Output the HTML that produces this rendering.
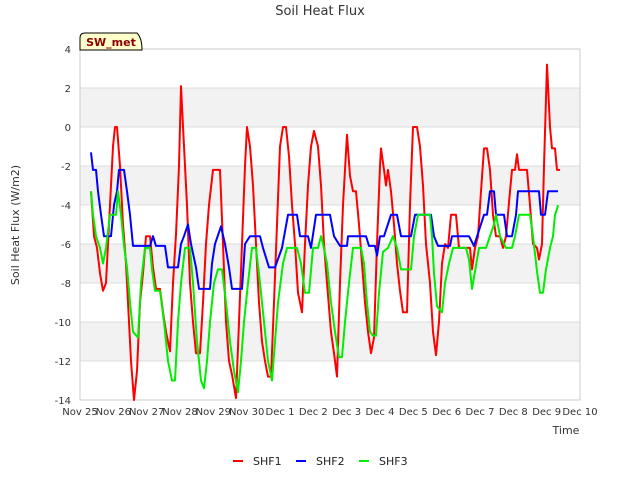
<!DOCTYPE html>
<html><head><meta charset="utf-8"><style>
body{margin:0;background:#fff;font-family:"Liberation Sans","DejaVu Sans",sans-serif;}
svg text{font-family:"DejaVu Sans","Liberation Sans",sans-serif;}
</style></head><body>
<svg id="chart" width="640" height="480" viewBox="0 0 640 480" xmlns="http://www.w3.org/2000/svg">
<rect width="640" height="480" fill="#fff"/>
<text x="320" y="15" text-anchor="middle" font-size="13" fill="#333">Soil Heat Flux</text>
<g id="bands"></g>
<g id="grid"></g>
<rect x="80" y="49" width="500" height="351" fill="none" stroke="#ccc"/>
<g id="yticks"></g>
<g id="xticks"></g>
<g id="series"></g>
<text transform="translate(19,225) rotate(-90)" text-anchor="middle" font-size="11" fill="#333">Soil Heat Flux (W/m2)</text>
<text x="566" y="434" text-anchor="middle" font-size="11" fill="#333">Time</text>
<g>
<path d="M80,50 L80,38 Q80,33 85,33 L137,33 Q142,38 142,50 Z" fill="#ffffcc" stroke="#000"/>
<text x="111" y="46" text-anchor="middle" font-size="11" font-weight="bold" fill="#8b0000">SW_met</text>
</g>
<g id="legend"></g>
</svg>
<script>
const yTicks=[4,2,0,-2,-4,-6,-8,-10,-12,-14];
const xTickLabels=["Nov 25","Nov 26","Nov 27","Nov 28","Nov 29","Nov 30","Dec 1","Dec 2","Dec 3","Dec 4","Dec 5","Dec 6","Dec 7","Dec 8","Dec 9","Dec 10"];
const seriesNames=["SHF1","SHF2","SHF3"];
const shf1T=[.33,.42,.51,.6,.69,.78,.9,.99,1.05,1.11,1.2,1.29,1.38,1.44,1.53,1.62,1.71,1.8,1.89,1.98,2.1,2.19,2.28,2.4,2.49,2.58,2.7,2.79,2.88,2.97,3.03,3.12,3.21,3.3,3.39,3.48,3.6,3.69,3.78,3.87,3.99,4.2,4.29,4.38,4.47,4.56,4.68,4.77,4.86,4.95,5.01,5.1,5.19,5.28,5.37,5.46,5.55,5.64,5.73,5.82,5.91,6.0,6.09,6.18,6.27,6.36,6.45,6.54,6.66,6.75,6.84,6.93,7.02,7.14,7.23,7.32,7.41,7.53,7.62,7.71,7.8,7.89,8.01,8.1,8.19,8.28,8.37,8.46,8.55,8.64,8.73,8.82,8.91,9.0,9.03,9.12,9.18,9.24,9.33,9.42,9.51,9.6,9.69,9.81,9.9,9.99,10.11,10.2,10.29,10.38,10.5,10.59,10.68,10.77,10.86,10.95,11.04,11.13,11.28,11.37,11.58,11.7,11.76,11.85,11.94,12.03,12.12,12.21,12.3,12.39,12.48,12.6,12.69,12.78,12.9,12.96,13.05,13.11,13.17,13.41,13.5,13.59,13.71,13.77,13.86,13.92,14.01,14.1,14.16,14.25,14.31,14.4];
const shf1V=[-3.3,-5.6,-6.2,-7.5,-8.4,-8.0,-4,-1,0,0,-2,-5,-7,-9,-12,-14,-12.5,-9,-7.5,-5.6,-5.6,-7.2,-8.3,-8.3,-9.5,-10.5,-11.5,-8,-5.5,-2,2.1,-1,-4,-8,-10,-11.6,-11.6,-9,-6,-4,-2.2,-2.2,-6,-10,-12,-12.7,-13.9,-10,-6,-2,0,-1,-3,-6,-9,-11,-12,-12.8,-12.8,-9,-5,-1,0,0,-1.5,-4,-6,-8.5,-9.5,-6,-3,-1,-0.2,-1,-3,-6,-8,-10.5,-11.6,-12.8,-8,-4,-0.4,-2.5,-3.3,-3.3,-5,-7,-9,-10.5,-11.6,-10.8,-6,-2,-1.1,-2.2,-3,-2.2,-3.3,-5,-7,-8.4,-9.5,-9.5,-4,0,0,-1,-3,-6,-8,-10.5,-11.7,-10,-7,-6,-6.2,-4.5,-4.5,-6.2,-6.2,-6.2,-7.3,-6.2,-5.6,-3.3,-1.1,-1.1,-2.2,-4.5,-5.6,-5.6,-6.2,-5.6,-3.3,-2.2,-2.2,-1.4,-2.2,-2.2,-4,-6,-6.2,-6.8,-6,-2,3.2,0,-1.1,-1.1,-2.2,-2.2];
const shf2T=[.33,.39,.48,.54,.63,.72,.93,1.02,1.11,1.17,1.32,1.41,1.5,1.59,2.1,2.19,2.28,2.55,2.64,2.94,3.03,3.12,3.24,3.33,3.48,3.57,3.9,3.96,4.05,4.23,4.35,4.47,4.56,4.86,4.95,5.1,5.4,5.49,5.67,5.85,6.06,6.24,6.51,6.6,6.84,6.93,7.08,7.5,7.62,7.8,8.01,8.04,8.58,8.67,8.85,8.91,9.0,9.12,9.33,9.51,9.63,9.93,10.05,10.53,10.62,10.74,11.1,11.16,11.67,11.82,12.12,12.21,12.3,12.42,12.48,12.72,12.81,12.96,13.08,13.14,13.77,13.83,13.95,14.04,14.34];
const shf2V=[-1.3,-2.2,-2.2,-3.3,-4.5,-5.6,-5.6,-4,-3.3,-2.2,-2.2,-3.3,-4.5,-6.1,-6.1,-5.6,-6.1,-6.1,-7.2,-7.2,-6,-5.6,-5,-6,-7.2,-8.3,-8.3,-7,-6,-5.1,-6,-7.2,-8.3,-8.3,-6,-5.6,-5.6,-6.2,-7.2,-7.2,-6.2,-4.5,-4.5,-5.6,-5.6,-6.2,-4.5,-4.5,-5.6,-6.1,-6.1,-5.6,-5.6,-6.1,-6.1,-6.6,-5.6,-5.6,-4.5,-4.5,-5.6,-5.6,-4.5,-4.5,-5.6,-6.1,-6.1,-5.6,-5.6,-6.1,-4.5,-4.5,-3.3,-3.3,-4.5,-4.5,-5.6,-5.6,-4.5,-3.3,-3.3,-4.5,-4.5,-3.3,-3.3];
const shf3T=[.33,.39,.48,.6,.69,.78,.9,1.08,1.14,1.23,1.32,1.41,1.5,1.59,1.74,1.83,1.95,2.1,2.16,2.25,2.4,2.52,2.64,2.76,2.85,2.94,3.03,3.15,3.3,3.39,3.51,3.63,3.72,3.81,3.9,4.02,4.14,4.26,4.38,4.5,4.62,4.74,4.83,4.92,5.04,5.16,5.28,5.4,5.52,5.64,5.76,5.85,5.94,6.09,6.21,6.51,6.63,6.75,6.87,6.99,7.14,7.23,7.29,7.41,7.53,7.65,7.77,7.86,7.95,8.07,8.19,8.43,8.52,8.61,8.7,8.79,8.88,8.97,9.09,9.24,9.39,9.51,9.63,9.93,10.02,10.14,10.5,10.56,10.62,10.71,10.86,10.95,11.07,11.19,11.58,11.67,11.76,11.85,11.97,12.18,12.3,12.42,12.48,12.6,12.78,12.96,13.05,13.17,13.5,13.59,13.71,13.8,13.89,13.98,14.1,14.19,14.25,14.31,14.34];
const shf3V=[-3.3,-4.5,-5.6,-6.2,-7,-6.2,-4.5,-4.5,-3.3,-4.5,-6.1,-7.2,-9,-10.5,-10.8,-8,-6.2,-6.2,-7.3,-8.4,-8.4,-10,-12,-13,-13,-10,-8,-6.2,-6.2,-8,-11,-13,-13.4,-12,-10,-8,-7.3,-7.3,-9,-11,-12.5,-13.6,-12,-10,-8,-6.2,-6.2,-8,-10,-12,-13,-11,-9,-7,-6.2,-6.2,-7,-8.5,-8.5,-6.2,-6.2,-5.6,-6,-7,-9,-10.5,-11.8,-11.8,-10,-8,-6.2,-6.2,-7,-9,-10.5,-10.7,-10.7,-8.5,-6.4,-6.2,-5.6,-6.2,-7.3,-7.3,-5.6,-4.5,-4.5,-5.6,-7.5,-9.2,-9.5,-8,-7,-6.2,-6.2,-6.8,-8.3,-7.4,-6.2,-6.2,-5.6,-5,-4.5,-5.6,-6.2,-6.2,-5.6,-4.5,-4.5,-5.6,-7.4,-8.5,-8.5,-7.3,-6.2,-5.6,-4.5,-4.2,-4];
const colors=["#ff0000","#0000ff","#00ee00"];
const NS="http://www.w3.org/2000/svg";
const L=80,R=580,T=49,B=400,yMin=-14,yMax=4,xMin=0,xMax=15;
const xs=t=>L+(t-xMin)/(xMax-xMin)*(R-L);
const ys=v=>B-(v-yMin)/(yMax-yMin)*(B-T);
function mk(tag,attrs,parent){const e=document.createElementNS(NS,tag);for(const k in attrs)e.setAttribute(k,attrs[k]);parent.appendChild(e);return e;}
const bands=document.getElementById('bands'),grid=document.getElementById('grid'),yt=document.getElementById('yticks'),xt=document.getElementById('xticks'),sg=document.getElementById('series'),lg=document.getElementById('legend');
for(let v=-12;v<4;v+=4){const r=mk('rect',{x:L,y:ys(v+2),width:R-L,height:ys(v)-ys(v+2),fill:'#f2f2f2'},bands);

}
yTicks.forEach(v=>{const l=mk('line',{x1:L,x2:R,y1:ys(v),y2:ys(v),stroke:'#dcdcdc'},grid);


const t=mk('text',{x:L-9,y:ys(v)+4,'text-anchor':'end','font-size':'10',fill:'#333'},yt);t.textContent=v;

});
xTickLabels.forEach((s,i)=>{const t=mk('text',{x:xs(i),y:B+15,'text-anchor':'middle','font-size':'10',fill:'#333'},xt);t.textContent=s;

});
[[shf1T,shf1V],[shf2T,shf2V],[shf3T,shf3V]].forEach((d,i)=>{const pts=d[0].map((t,j)=>xs(t).toFixed(1)+','+ys(d[1][j]).toFixed(1)).join(' ');
const p=mk('polyline',{points:pts,fill:'none',stroke:colors[i],'stroke-width':'2','stroke-linejoin':'round'},sg);

});
seriesNames.forEach((n,i)=>{const g=mk('g',{},lg);


const x0=233+i*63;mk('line',{x1:x0,x2:x0+10,y1:461,y2:461,stroke:colors[i],'stroke-width':'2'},g);
const t=mk('text',{x:x0+20,y:465,'font-size':'11',fill:'#222'},g);t.textContent=n;});
</script>
</body></html>
